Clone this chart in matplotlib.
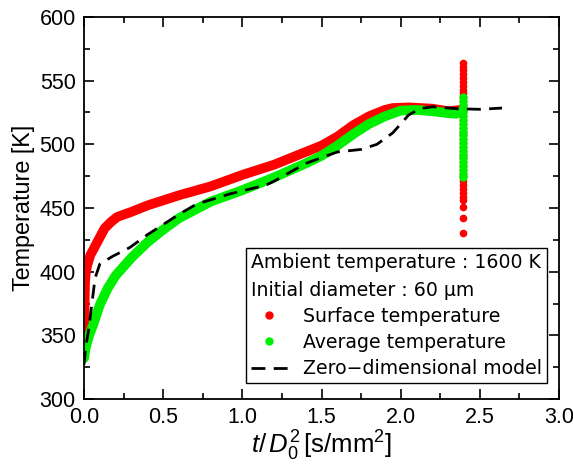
import matplotlib
matplotlib.use("Agg")
import matplotlib.pyplot as plt
from matplotlib.lines import Line2D
from matplotlib.ticker import MultipleLocator, FormatStrFormatter

plt.rcParams['font.family'] = ['Liberation Sans', 'DejaVu Sans']
plt.rcParams['mathtext.fontset'] = 'custom'
plt.rcParams['mathtext.rm'] = 'Liberation Sans'
plt.rcParams['mathtext.it'] = 'Liberation Sans:italic'

# Surface temperature (red band)
t_surf = [0, 0.002, 0.004, 0.006, 0.01, 0.02, 0.04, 0.07, 0.1, 0.13, 0.17, 0.21,
          0.3, 0.4, 0.5, 0.6, 0.8, 1.0, 1.2, 1.4, 1.5, 1.6, 1.7, 1.8, 1.9, 1.95,
          2.05, 2.2, 2.3, 2.38]
T_surf = [345, 360, 375, 390, 398, 405, 413, 420, 427, 434, 439, 443,
          447, 452, 456, 460, 467, 476, 484, 494, 499, 506, 515, 522, 527, 528.5,
          529, 528, 526, 527]

# Average temperature (green band)
t_avg = [0, 0.01, 0.03, 0.06, 0.1, 0.15, 0.2, 0.3, 0.4, 0.5, 0.6, 0.8, 1.0, 1.2,
         1.4, 1.5, 1.6, 1.7, 1.8, 1.9, 2.0, 2.1, 2.2, 2.3, 2.35, 2.39]
T_avg = [332, 340, 349, 359, 374, 387, 397, 411, 423, 433, 442, 455, 464, 474,
         485, 491, 499, 508, 516, 522, 526.5, 527, 526, 524.5, 524, 526]

# Zero-dimensional model (dashed)
t_zero = [0, 0.01, 0.03, 0.05, 0.07, 0.1, 0.18, 0.29, 0.4, 0.5, 0.6, 0.71, 0.92,
          1.15, 1.2, 1.4, 1.6, 1.75, 1.85, 1.95, 2.05, 2.12, 2.2, 2.35, 2.5, 2.64]
T_zero = [327, 340, 355, 375, 395, 406, 412, 419, 429, 437, 445, 453, 461,
          468, 471, 485, 494, 496, 500, 509, 523, 528, 529.5, 528, 527.5, 528.5]

# scatter of points at the end of the run (t = 2.395)
t_end = 2.395
T_surf_end = [430, 442.5, 450.5, 456, 459, 462, 465, 468, 471, 474, 477, 480, 483,
              486, 489, 492, 495, 498, 501, 504, 507, 510, 513, 516, 519, 522, 525,
              528, 531, 534, 537, 540, 543, 546, 549, 552, 555, 558, 561, 563.5]
T_avg_end = [474, 477, 480, 483, 486, 489, 492, 495, 498, 501, 504, 507, 510, 513,
             516, 519, 522, 525, 528, 531, 534, 537]

fig = plt.figure(figsize=(5.73, 4.68), dpi=100)
ax = fig.add_axes([0.1466, 0.1474, 0.829, 0.8163])

red = '#ff0000'
green = '#00ee00'

ax.plot(t_surf, T_surf, color=red, lw=7, solid_capstyle='round')
ax.plot([t_end] * len(T_surf_end), T_surf_end, 'o', color=red, ms=5.5, mec='none')
ax.plot(t_avg, T_avg, color=green, lw=7, solid_capstyle='round')
ax.plot([t_end] * len(T_avg_end), T_avg_end, 'o', color=green, ms=6, mec='none')
ax.plot(t_zero, T_zero, color='black', lw=2, linestyle=(0, (5, 3)))

ax.set_xlim(0, 3.0)
ax.set_ylim(300, 600)
ax.xaxis.set_major_locator(MultipleLocator(0.5))
ax.xaxis.set_minor_locator(MultipleLocator(0.25))
ax.yaxis.set_major_locator(MultipleLocator(50))
ax.yaxis.set_minor_locator(MultipleLocator(25))
ax.xaxis.set_major_formatter(FormatStrFormatter('%.1f'))

ax.tick_params(which='both', direction='in', top=True, right=True, labelsize=15.5)
ax.tick_params(which='major', length=7, width=1.2, pad=6)
ax.tick_params(which='minor', length=4, width=1.2)
for s in ax.spines.values():
    s.set_linewidth(1.3)

ax.set_ylabel('Temperature [K]', fontsize=16.8, labelpad=3)
ax.set_xlabel(r'$t/\,D_{\mathit{0}}^{2}\,$[s/mm$^{2}$]', fontsize=18.5, labelpad=0)

leg_font = {'family': ['DejaVu Sans'], 'size': 13.6}
handles = [Line2D([], [], color=red, marker='o', ls='none', ms=5),
           Line2D([], [], color=green, marker='o', ls='none', ms=5),
           Line2D([], [], color='black', lw=2, ls=(0, (5, 3)))]
labels = ['Surface temperature', 'Average temperature', 'Zero\u2212dimensional model']
leg = ax.legend(handles, labels,
                title='Ambient temperature : 1600 K\nInitial diameter : 60 \u03bcm',
                loc='lower right', bbox_to_anchor=(0.975, 0.042),
                alignment='left', frameon=True, fancybox=False,
                edgecolor='black', framealpha=1,
                prop=leg_font, title_fontproperties=leg_font,
                handlelength=2.0, handletextpad=0.8, borderpad=0.25,
                labelspacing=0.38, borderaxespad=0)
leg.get_title().set_linespacing(1.6)
leg.get_frame().set_linewidth(1.0)

fig.savefig('out.png', dpi=100)
